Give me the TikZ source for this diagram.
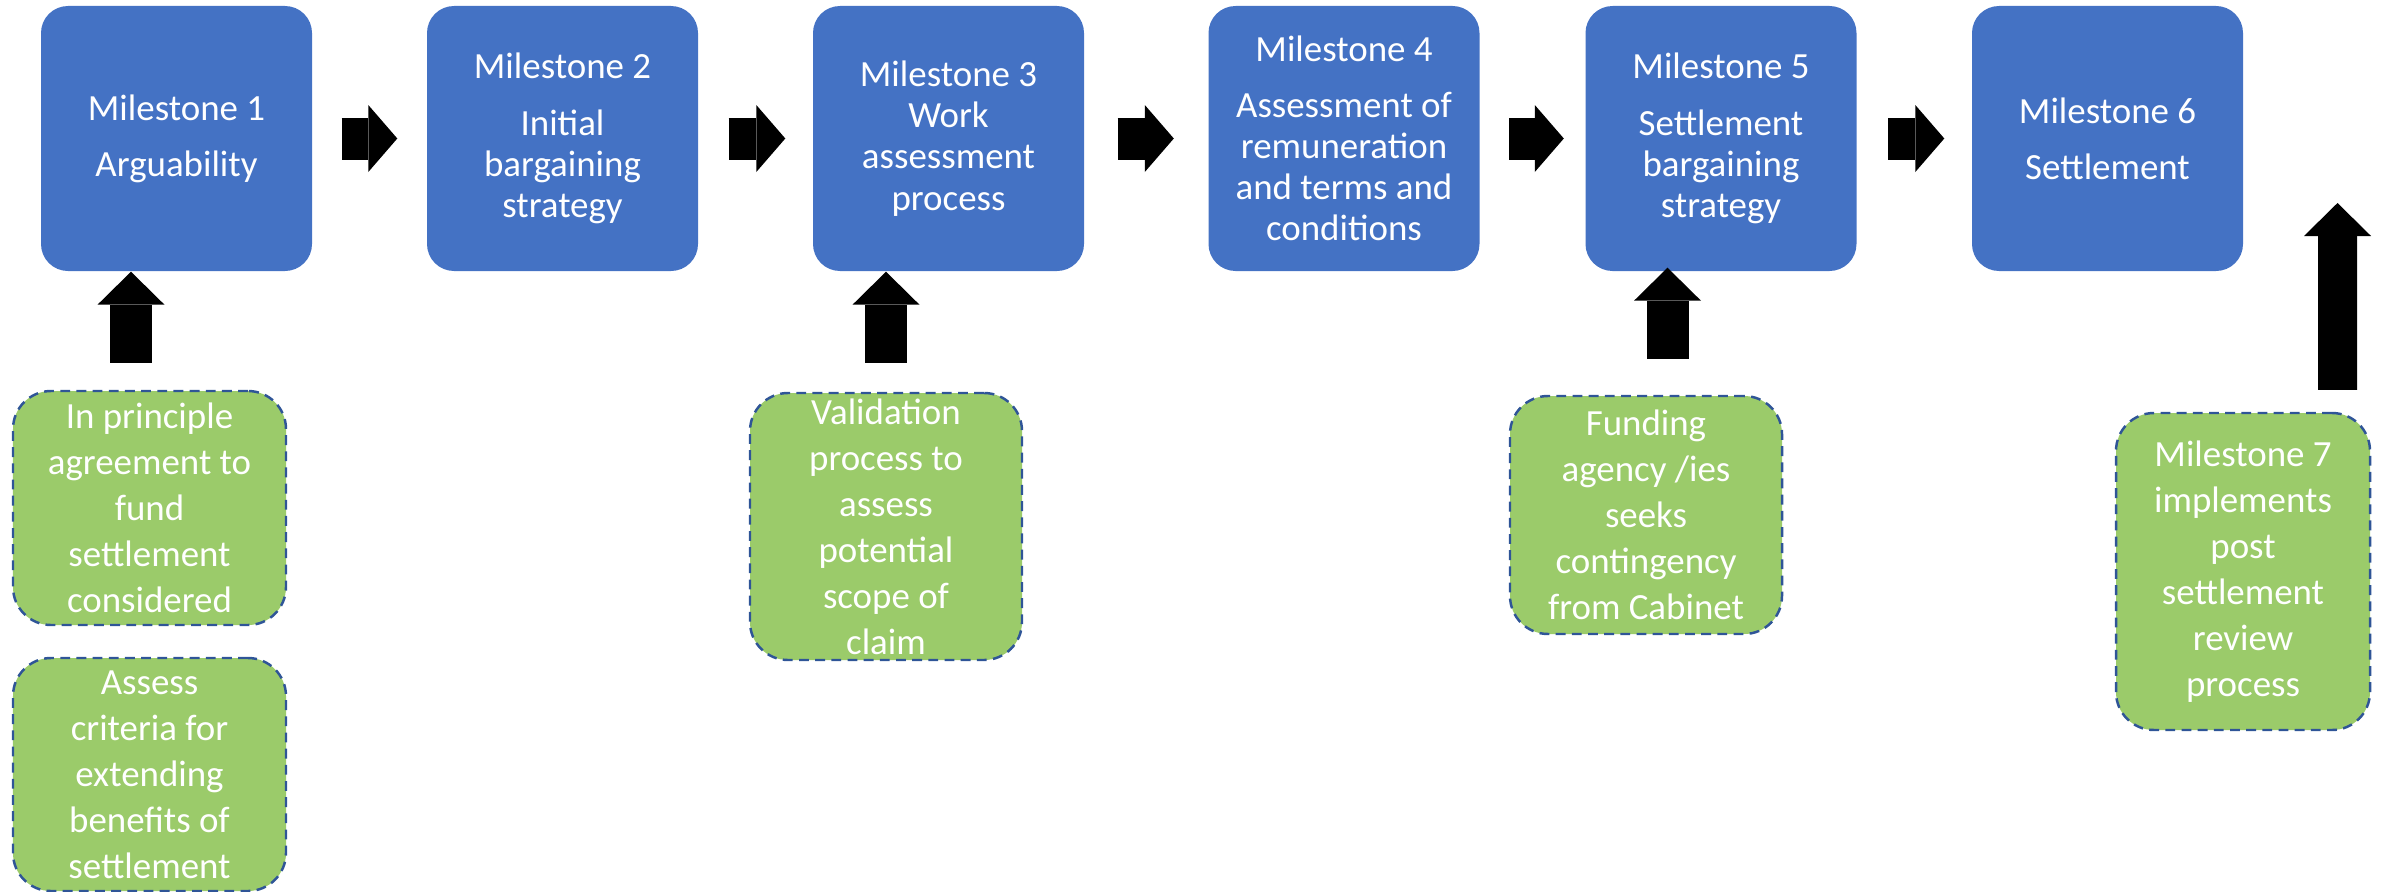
\documentclass[tikz,border=0pt]{standalone}
\usepackage{fontspec}
\setmainfont{Carlito}
\usetikzlibrary{arrows.meta}

\definecolor{msblue}{HTML}{4472C4}
\definecolor{taskgreen}{HTML}{9BCB6A}
\definecolor{dashblue}{HTML}{2F5597}

\begin{document}
\begin{tikzpicture}[
	milestone/.style={fill=msblue, rounded corners=2.7mm, minimum width=2.71cm, minimum height=2.65cm, inner sep=0pt, text=white, align=center, font=\fontsize{10.5}{11.7}\selectfont},
	task/.style={fill=taskgreen, draw=dashblue, line width=0.7pt, dash pattern=on 2.8pt off 1.8pt, rounded corners=3.8mm, inner sep=0pt, text=white, align=center, font=\fontsize{10.5}{13.1}\selectfont},
	flowarrow/.style={line width=4.2mm, -{Triangle[length=2.9mm, width=6.7mm, line width=0pt]}},
	feedarrow/.style={line width=4.2mm, -{Triangle[length=3.3mm, width=6.7mm, line width=0pt]}}
]
	\useasboundingbox (0,0) rectangle (23.84,-8.92);
	
	% --- MILESTONES (top row) ---
	\node[milestone] (m1) at (1.765,-1.385) {Milestone 1\\[4.3pt]Arguability};
	\node[milestone] (m2) at (5.625,-1.385) {Milestone 2\\[4.3pt]Initial\\bargaining\\strategy};
	\node[milestone] (m3) at (9.485,-1.385) {Milestone 3\\Work\\assessment\\process};
	\node[milestone] (m4) at (13.44,-1.385) {Milestone 4\\[4.3pt]Assessment of\\remuneration\\and terms and\\conditions};
	\node[milestone] (m5) at (17.21,-1.385) {Milestone 5\\[4.3pt]Settlement\\bargaining\\strategy};
	\node[milestone] (m6) at (21.075,-1.385) {Milestone 6\\[4.3pt]Settlement};
	
	% Flow between milestones
	\draw[flowarrow, shorten <=2.9mm, shorten >=2.9mm] (m1) -- (m2);
	\draw[flowarrow, shorten <=3mm, shorten >=2.7mm] (m2) -- (m3);
	\draw[flowarrow, shorten <=3.3mm, shorten >=3.4mm] (m3) -- (m4);
	\draw[flowarrow, shorten <=2.9mm, shorten >=2.1mm] (m4) -- (m5);
	\draw[flowarrow, shorten <=3.1mm, shorten >=2.7mm] (m5) -- (m6);
	
	% --- SUPPORTING TASKS (dashed green) ---
	\node[task, minimum width=2.73cm, minimum height=2.34cm] (g1a) at (1.495,-5.08) {In principle\\agreement to\\fund\\settlement\\considered};
	\node[task, minimum width=2.73cm, minimum height=2.33cm] (g1b) at (1.495,-7.745) {Assess\\criteria for\\extending\\benefits of\\settlement};
	\node[task, minimum width=2.72cm, minimum height=2.67cm] (g3) at (8.86,-5.265) {Validation\\process to\\assess\\potential\\scope of\\claim};
	\node[task, minimum width=2.72cm, minimum height=2.38cm] (g5) at (16.46,-5.15) {Funding\\agency /ies\\seeks\\contingency\\from Cabinet};
	\node[task, minimum width=2.54cm, minimum height=3.17cm] (g7) at (22.43,-5.715) {Milestone 7\\implements\\post\\settlement\\review\\process};
	
	% Feeds up into the milestones
	\coordinate (f1) at ([xshift=-1.85mm]g1a.north);
	\draw[feedarrow, shorten <=2.7mm] (f1) -- (f1 |- m1.south);
	\draw[feedarrow, shorten <=2.9mm] (g3.north) -- (g3.north |- m3.south);
	\coordinate (f5) at ([xshift=2.15mm]g5.north);
	\draw[feedarrow, shorten <=3.6mm, shorten >=-0.4mm] (f5) -- (f5 |- m5.south);
	
	% Post settlement review
	\coordinate (f7) at ([xshift=9.45mm]g7.north);
	\coordinate (review) at (23.375,-2.03);
	\draw[feedarrow, line width=3.9mm, shorten <=2.2mm] (f7) -- (review);
\end{tikzpicture}
\end{document}
